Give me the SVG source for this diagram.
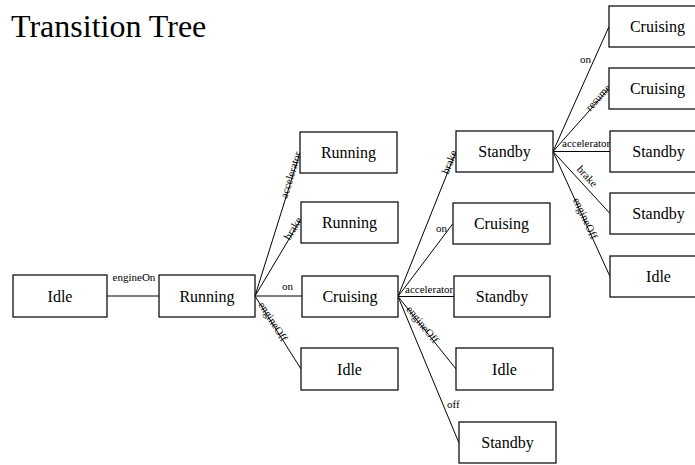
<svg xmlns="http://www.w3.org/2000/svg" width="695" height="465" viewBox="0 0 695 465">
<style>
text{font-family:'Liberation Serif','Times New Roman',Times,'DejaVu Serif',serif}
.box{fill:#fff;stroke:#111;stroke-width:1.3}
.nt{font-size:16px;fill:#000;text-anchor:middle}
.ln{stroke:#000;stroke-width:1;fill:none}
.lb{font-size:11px;fill:#000}
.title{font-size:32px;fill:#000}
</style>
<rect width="695" height="465" fill="#fff"/>
<text class="title" x="11" y="37">Transition Tree</text>
<g id="connectors">
<line class="ln" x1="107" y1="296" x2="159" y2="296"/>
<text class="lb" x="134" y="281" text-anchor="middle">engineOn</text>
<line class="ln" x1="255" y1="296" x2="300" y2="152.5"/>
<text class="lb" text-anchor="end" transform="translate(300,152.5) rotate(-72.6)" y="1.5">accelerator</text>
<line class="ln" x1="255" y1="296" x2="301" y2="219"/>
<text class="lb" text-anchor="end" transform="translate(301,219) rotate(-59.1)" y="1.5">brake</text>
<line class="ln" x1="255" y1="296" x2="302" y2="296"/>
<text class="lb" x="293" y="290" text-anchor="end">on</text>
<line class="ln" x1="255" y1="296" x2="301" y2="369"/>
<text class="lb" transform="translate(259.8,303.6) rotate(57.8)" y="2">engineOff</text>
<line class="ln" x1="398" y1="296.5" x2="456" y2="151.5"/>
<text class="lb" text-anchor="end" transform="translate(456,151.5) rotate(-68.2)" y="1.5">brake</text>
<line class="ln" x1="398" y1="296.5" x2="453" y2="223.5"/>
<text class="lb" x="447" y="232" text-anchor="end">on</text>
<line class="ln" x1="398" y1="296.5" x2="454" y2="296.5"/>
<text class="lb" x="405" y="293">accelerator</text>
<line class="ln" x1="398" y1="296.5" x2="456" y2="369"/>
<text class="lb" transform="translate(407.4,308.2) rotate(51.3)" y="2">engineOff</text>
<line class="ln" x1="398" y1="296.5" x2="459" y2="443"/>
<text class="lb" x="447" y="408">off</text>
<line class="ln" x1="553" y1="151.5" x2="609" y2="26.5"/>
<text class="lb" x="591" y="63" text-anchor="end">on</text>
<line class="ln" x1="553" y1="151.5" x2="609" y2="88.5"/>
<text class="lb" text-anchor="end" transform="translate(610.3,87) rotate(-48.4)" y="1.5">resume</text>
<line class="ln" x1="553" y1="151.5" x2="610" y2="151.5"/>
<text class="lb" x="562" y="147">accelerator</text>
<line class="ln" x1="553" y1="151.5" x2="610" y2="213.5"/>
<text class="lb" transform="translate(574.5,171.5) rotate(47.4)" y="-2.5">brake</text>
<line class="ln" x1="553" y1="151.5" x2="610" y2="276.5"/>
<text class="lb" transform="translate(574.6,198.8) rotate(65.5)" y="2">engineOff</text>
</g>
<g id="n1"><rect class="box" x="13" y="275" width="94" height="42"/><text class="nt" x="60" y="301.5">Idle</text></g>
<g id="n2"><rect class="box" x="159" y="275" width="96" height="42"/><text class="nt" x="207" y="301.5">Running</text></g>
<g id="n3"><rect class="box" x="300" y="132" width="97" height="41"/><text class="nt" x="348.5" y="158">Running</text></g>
<g id="n4"><rect class="box" x="301" y="202" width="97" height="41"/><text class="nt" x="349.5" y="228">Running</text></g>
<g id="n5"><rect class="box" x="302" y="276" width="96" height="41"/><text class="nt" x="350" y="302">Cruising</text></g>
<g id="n6"><rect class="box" x="301" y="348" width="97" height="42"/><text class="nt" x="349.5" y="374.5">Idle</text></g>
<g id="n7"><rect class="box" x="456" y="131" width="97" height="41"/><text class="nt" x="504.5" y="157">Standby</text></g>
<g id="n8"><rect class="box" x="453" y="203" width="97" height="41"/><text class="nt" x="501.5" y="229">Cruising</text></g>
<g id="n9"><rect class="box" x="454" y="276" width="96" height="41"/><text class="nt" x="502" y="302">Standby</text></g>
<g id="n10"><rect class="box" x="456" y="348" width="97" height="42"/><text class="nt" x="504.5" y="374.5">Idle</text></g>
<g id="n11"><rect class="box" x="459" y="422" width="97" height="41"/><text class="nt" x="507.5" y="448">Standby</text></g>
<g id="n12"><rect class="box" x="609" y="6" width="97" height="41"/><text class="nt" x="657.5" y="32">Cruising</text></g>
<g id="n13"><rect class="box" x="609" y="68" width="97" height="41"/><text class="nt" x="657.5" y="94">Cruising</text></g>
<g id="n14"><rect class="box" x="610" y="131" width="97" height="41"/><text class="nt" x="658.5" y="157">Standby</text></g>
<g id="n15"><rect class="box" x="610" y="193" width="97" height="41"/><text class="nt" x="658.5" y="219">Standby</text></g>
<g id="n16"><rect class="box" x="610" y="256" width="97" height="41"/><text class="nt" x="658.5" y="282">Idle</text></g>
</svg>
